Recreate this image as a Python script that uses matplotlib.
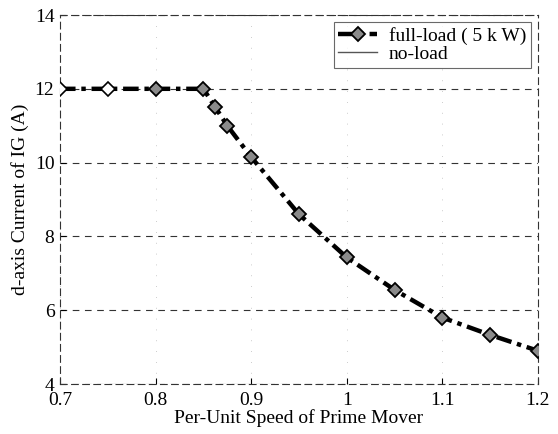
import matplotlib
matplotlib.use("Agg")
import matplotlib.pyplot as plt

plt.rcParams['font.family'] = ['Liberation Serif', 'DejaVu Serif']

speed = [0.7, 0.75, 0.8, 0.85, 0.8625, 0.875, 0.9, 0.95, 1.0, 1.05, 1.1, 1.15, 1.2]
full_load = [12.0, 12.0, 12.0, 12.0, 11.5, 11.0, 10.15, 8.6, 7.43, 6.55, 5.8, 5.33, 4.9]
hollow_n = 2

xticks = [0.7, 0.8, 0.9, 1.0, 1.1, 1.2]
xticklabels = ['0.7', '0.8', '0.9', '1', '1.1', '1.2']
yticks = [4, 6, 8, 10, 12, 14]

fig = plt.figure(figsize=(5.58, 4.34), dpi=100)
ax = fig.add_axes([0.1075, 0.1152, 0.8566, 0.8502])

ax.plot(speed, full_load, color='black', linestyle=(0, (3.5, 1.3, 1, 1.3)), linewidth=3.2,
        marker='D', markersize=7.5, markerfacecolor='#8a8a8a', markeredgecolor='black',
        markeredgewidth=1.3, markevery=list(range(hollow_n, len(speed))),
        label='full-load ( 5 k W)', zorder=3)
ax.plot(speed[:hollow_n], full_load[:hollow_n], linestyle='none', marker='D', markersize=7.5,
        markerfacecolor='white', markeredgecolor='black', markeredgewidth=1.2, zorder=4)
ax.plot([], [], color='#555555', linewidth=1.0, label='no-load')

ax.set_xlim(0.7, 1.2)
ax.set_ylim(4, 14)
ax.set_xticks(xticks)
ax.set_xticklabels(xticklabels)
ax.set_yticks(yticks)
ax.grid(True, axis='y', linestyle=(0, (6, 5)), color='#333333', linewidth=0.8)
ax.grid(True, axis='x', linestyle=(0, (1, 12)), color='#bbbbbb', linewidth=0.6)
for s in ax.spines.values():
    s.set_linestyle((0, (6, 4)))
    s.set_linewidth(0.8)
    s.set_color('#333333')
ax.tick_params(direction='in', length=4, labelsize=14, width=0.8)
ax.tick_params(axis='x', pad=6)
ax.tick_params(axis='y', pad=4)

ax.set_xlabel('Per-Unit Speed of Prime Mover', fontsize=14, labelpad=0)
ax.set_ylabel('d-axis Current of IG (A)', fontsize=14, labelpad=4)

leg = ax.legend(loc='upper right', fontsize=14, frameon=True, fancybox=False,
                edgecolor='#444444', borderaxespad=0.35, handlelength=2.0,
                labelspacing=0.05, borderpad=0.25, handletextpad=0.6)
leg.get_frame().set_linewidth(0.8)

fig.savefig('out.png', dpi=100, facecolor='white')
